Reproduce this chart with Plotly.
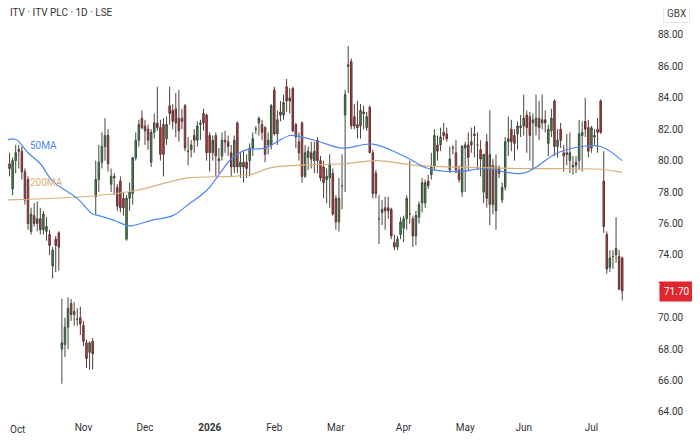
import pandas as pd
import plotly.graph_objects as go

holidays = ["2025-12-25", "2025-12-26", "2026-01-01", "2026-04-03", "2026-04-06", "2026-05-04", "2026-05-25"]

open_ = [78.5,79.8,78.2,80.0,80.6,80.6,79.3,78.8,75.5,76.5,76.0,76.3,75.6,75.5,75.3,73.3,75.0,75.4,
 68.0,68.3,69.4,70.9,70.2,69.9,70.0,69.5,68.4,67.8,68.5,
 77.7,78.8,79.9,80.9,81.6,78.5,79.0,78.3,78.7,77.6,75.0,77.6,77.9,80.2,81.3,82.7,
 82.2,82.0,79.9,81.8,82.4,82.1,82.3,81.4,83.5,83.2,83.3,82.7,82.7,83.5,80.6,80.7,81.6,81.3,82.3,83.0,82.9,
 81.6,80.5,81.6,80.1,80.3,81.3,81.2,80.5,79.6,82.4,79.6,79.9,79.9,80.0,80.8,82.0,82.4,82.3,82.1,81.0,81.0,
 84.5,81.7,83.1,82.9,84.7,84.0,84.6,82.3,81.2,82.4,79.0,80.2,80.5,80.0,81.3,80.0,79.6,78.8,78.9,79.2,
 77.6,76.1,78.4,82.9,86.0,86.3,82.8,82.3,82.2,83.1,82.1,83.4,80.5,79.2,76.3,76.7,77.0,77.0,76.9,74.8,74.5,75.3,
 75.7,76.3,76.6,76.3,75.2,76.4,77.3,77.3,78.7,79.1,79.6,81.0,81.0,81.8,81.7,79.4,80.8,80.5,79.4,78.0,
 80.8,81.0,81.0,81.7,81.0,80.7,78.0,81.2,77.2,79.7,76.8,79.5,77.5,78.3,81.2,82.0,81.6,81.7,82.2,
 82.2,82.9,82.8,82.4,82.2,82.7,82.4,82.6,81.1,81.9,83.8,80.9,82.0,80.5,80.5,80.0,79.7,79.7,80.0,81.6,82.5,82.1,
 80.8,81.5,82.0,83.8,78.7,75.3,73.2,73.9,74.0,73.9,73.8]
high = [80.0,80.5,80.2,81.0,81.0,80.9,79.5,79.0,77.0,77.3,77.4,77.0,76.8,76.4,75.6,74.5,75.2,75.5,
 71.2,70.0,71.3,71.2,71.0,70.6,70.7,69.8,68.6,68.5,68.7,
 80.0,81.0,81.8,82.7,82.0,79.5,79.2,78.5,79.0,78.0,77.8,78.6,80.0,81.8,82.6,83.2,
 82.6,82.3,82.0,83.0,84.7,82.6,82.7,82.8,84.7,83.6,84.3,84.5,83.3,83.6,81.5,81.3,82.0,82.5,82.6,83.3,83.0,
 81.8,81.6,81.8,80.8,81.8,81.9,81.6,81.0,81.6,82.5,80.5,80.6,80.4,81.1,81.8,82.2,82.8,82.6,82.2,81.8,83.6,
 84.7,83.2,83.8,84.2,85.2,84.6,84.7,82.4,81.8,82.5,81.0,80.9,81.2,81.2,81.5,80.3,80.0,79.5,80.4,79.5,
 77.8,78.9,80.4,84.5,87.3,86.5,83.6,83.8,83.6,83.5,83.1,83.5,80.7,79.4,77.8,77.5,77.7,77.7,77.0,75.3,75.2,76.4,
 76.5,77.8,80.0,76.5,76.8,77.4,78.9,78.8,79.1,80.5,82.0,81.6,82.1,82.4,82.1,80.9,81.0,81.3,79.7,81.0,
 81.2,81.8,82.1,82.2,81.8,81.3,80.3,81.7,83.2,80.1,80.4,79.7,78.6,81.5,82.8,82.6,82.0,82.5,82.9,
 84.2,83.2,83.1,83.0,84.2,83.8,84.2,83.2,82.3,83.3,83.9,82.0,82.4,81.0,81.7,81.8,80.3,80.3,82.6,82.5,84.0,82.6,
 82.2,82.0,82.7,83.9,80.6,75.5,74.3,74.3,76.4,74.3,73.9]
low = [77.9,79.0,77.8,79.2,79.5,78.8,77.2,75.6,75.3,75.8,75.5,75.3,75.3,74.9,74.0,72.5,72.9,73.0,
 65.8,67.5,68.0,69.8,69.5,69.5,68.9,68.2,66.8,66.7,66.7,
 76.6,78.0,79.5,80.0,79.3,78.0,77.8,76.8,76.7,76.5,74.9,76.8,77.2,80.0,80.9,82.0,
 81.0,80.7,79.6,81.4,81.9,80.0,79.0,81.0,82.3,82.0,81.5,81.2,82.0,80.6,79.7,80.2,80.5,80.9,81.3,81.9,80.0,
 79.3,80.0,79.0,79.2,80.0,80.5,80.3,79.0,79.2,79.2,78.9,78.6,78.9,79.0,80.3,81.7,81.6,81.3,79.9,80.4,80.7,
 81.6,81.0,82.5,82.6,83.1,83.0,81.8,80.8,80.0,78.6,78.9,79.4,79.5,79.2,79.2,78.7,77.6,77.3,77.0,76.5,
 75.6,75.5,76.9,78.0,84.3,82.0,82.0,81.4,81.4,82.0,81.9,80.6,77.6,77.6,74.7,75.9,75.6,76.3,75.0,74.3,74.3,75.0,
 74.8,75.6,76.0,74.5,74.6,76.0,76.7,77.0,78.2,78.8,79.4,80.0,80.6,81.3,81.2,79.2,80.4,79.2,78.6,77.7,
 78.0,79.4,80.5,80.2,79.4,79.0,77.3,77.0,75.9,76.6,75.6,78.9,77.3,78.1,80.3,80.6,80.0,80.7,81.5,
 81.6,80.5,80.0,79.5,81.6,81.3,82.0,81.8,80.3,81.5,80.3,80.2,80.8,79.3,79.7,79.2,79.1,79.2,79.4,79.3,81.5,80.2,
 80.5,81.0,80.5,81.7,75.4,72.8,72.9,73.1,73.5,71.8,71.1]
close = [79.8,79.5,80.0,80.5,80.7,79.3,77.5,76.0,76.6,76.0,76.3,75.6,76.6,75.8,74.6,74.3,74.6,74.5,
 68.4,69.4,70.6,70.2,70.4,69.9,69.6,68.5,67.4,68.4,67.7,
 78.8,79.9,80.9,81.6,79.8,79.0,78.9,77.1,77.0,77.0,77.6,78.0,80.2,81.3,82.3,82.1,
 81.9,81.3,81.8,82.4,82.1,80.4,80.4,82.3,83.0,82.5,82.4,81.9,82.5,80.8,80.6,81.0,81.3,82.2,82.4,82.4,80.5,
 80.5,81.3,80.3,80.0,81.3,81.2,80.9,79.6,81.3,79.6,79.9,79.6,79.5,80.8,81.4,82.0,82.7,81.8,80.4,81.3,83.5,
 81.7,82.6,82.9,83.7,83.8,83.8,81.9,81.5,80.5,79.0,80.5,80.6,80.1,80.6,80.0,78.9,78.6,79.0,79.8,76.6,
 76.1,77.6,78.4,84.2,86.1,82.2,82.2,82.1,83.2,83.0,82.8,80.5,77.9,77.9,76.3,76.9,76.8,76.8,75.2,74.5,75.0,76.1,
 76.3,77.6,76.6,75.2,76.5,77.2,78.6,78.6,78.4,79.6,81.6,80.6,81.5,81.6,81.4,80.1,80.8,79.4,78.8,80.9,
 81.0,80.2,81.2,81.6,81.0,80.1,80.4,77.6,80.4,77.2,79.6,79.2,78.3,81.2,81.4,81.2,81.1,82.2,82.1,
 82.7,82.1,81.6,82.6,82.7,82.1,82.6,82.4,82.0,82.7,80.9,81.3,81.3,80.3,80.4,80.5,79.6,79.9,81.7,81.8,82.0,80.6,
 82.1,81.6,81.8,81.8,75.8,73.1,73.8,73.9,74.4,71.8,71.7]

ma50_dates = ["2025-09-29","2025-10-02","2025-10-08","2025-10-14","2025-10-20","2025-10-30","2025-11-06","2025-11-10",
 "2025-11-17","2025-11-24","2025-12-03","2025-12-12","2025-12-19","2025-12-31","2026-01-07","2026-01-13","2026-01-20",
 "2026-01-28","2026-02-09","2026-02-13","2026-02-20","2026-03-04","2026-03-18","2026-04-02","2026-04-15","2026-04-29",
 "2026-05-12","2026-06-01","2026-06-16","2026-06-26","2026-07-06","2026-07-15"]
ma50_vals = [81.3,81.36,80.5,79.8,78.7,77.6,76.6,76.5,76.2,75.85,76.2,76.5,77.2,78.1,79.1,80.1,80.7,
 80.8,81.6,81.5,81.25,80.8,81.05,80.2,79.5,79.3,79.5,79.2,80.5,80.9,80.9,80.0]
ma200_dates = ["2025-09-29","2025-11-06","2025-11-26","2025-12-10","2025-12-19","2026-01-13","2026-01-21","2026-01-30",
 "2026-02-11","2026-03-05","2026-03-19","2026-04-09","2026-04-24","2026-05-28","2026-07-06","2026-07-15"]
ma200_vals = [77.5,77.75,78.1,78.6,78.9,79.0,79.1,79.55,79.7,79.8,80.0,79.7,79.6,79.5,79.45,79.25]

tick_vals = ["2025-11-03","2025-12-01","2026-01-02","2026-02-02","2026-03-02","2026-04-01","2026-05-01","2026-06-01","2026-07-01"]
tick_text = ["Nov","Dec","<b>2026</b>","Feb","Mar","Apr","May","Jun","Jul"]
first_tick_text = "Oct"
last_price = 71.70

dates = pd.bdate_range("2025-09-29", periods=len(close) + 10, freq="C", holidays=holidays)[:len(close)]

fig = go.Figure()
fig.add_trace(go.Scatter(x=pd.to_datetime(ma200_dates), y=ma200_vals, mode="lines", line=dict(color="#d9b07a", width=1.2, shape="spline"), hoverinfo="skip"))
fig.add_trace(go.Scatter(x=pd.to_datetime(ma50_dates), y=ma50_vals, mode="lines", line=dict(color="#4f86f0", width=1.2, shape="spline"), hoverinfo="skip"))
fig.add_trace(go.Candlestick(x=dates, open=open_, high=high, low=low, close=close,
    increasing=dict(line=dict(color="#3d4a3d", width=1), fillcolor="#3c9a48"),
    decreasing=dict(line=dict(color="#5a3a3a", width=1), fillcolor="#e0262e"),
    whiskerwidth=0))

fig.add_annotation(x="2025-10-15", y=80.95, text="50MA", showarrow=False, font=dict(color="#4f86f0", size=10, family="Roboto"))
fig.add_annotation(x="2025-10-16", y=78.6, text="200MA", showarrow=False, font=dict(color="#d9b07a", size=10, family="Roboto"))
fig.add_annotation(xref="paper", x=0, xanchor="left", yref="paper", y=0, yanchor="top", yshift=-2, text=first_tick_text,
    showarrow=False, font=dict(color="#333", size=10, family="Roboto"))
fig.add_annotation(xref="paper", yref="paper", x=0.0, y=1.0, xanchor="left", yanchor="bottom", yshift=6,
    text="ITV · ITV PLC · 1D · LSE", showarrow=False, font=dict(color="#333", size=10, family="Roboto"))
fig.add_annotation(xref="paper", yref="paper", x=1.037, y=1.0, xanchor="center", yanchor="bottom", yshift=3,
    text="GBX", showarrow=False, font=dict(color="#444", size=10, family="Roboto"),
    bordercolor="#e6e6e6", borderwidth=1, borderpad=3, bgcolor="white")
fig.add_annotation(xref="paper", x=1.037, y=last_price, xanchor="center", text="71.70", showarrow=False,
    font=dict(color="white", size=10, family="Roboto"), bgcolor="#e0262e", borderpad=4)

fig.update_layout(
    width=700, height=441, margin=dict(l=0, r=55, t=18, b=29),
    paper_bgcolor="white", plot_bgcolor="white", showlegend=False,
    font=dict(family="Roboto", size=10, color="#333"),
)
fig.update_xaxes(rangeslider_visible=False, showgrid=False, zeroline=False,
    rangebreaks=[dict(bounds=["sat", "mon"]), dict(values=holidays)],
    range=["2025-09-29 12:00", "2026-07-29"],
    tickvals=tick_vals, ticktext=tick_text, ticks="", tickfont=dict(size=10, color="#333"))
fig.update_yaxes(side="right", range=[63.49, 88.57], dtick=2, tick0=64, tickformat=".2f",
    showgrid=False, zeroline=False, ticks="", ticklabelstandoff=4, tickfont=dict(size=10, color="#333"))
fig.write_html("out.html")
